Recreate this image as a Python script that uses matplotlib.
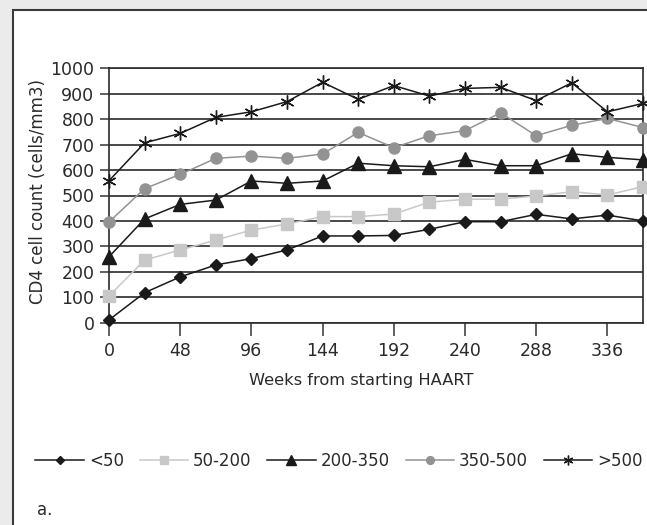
import matplotlib
matplotlib.use("Agg")
from matplotlib import pyplot as plt
from matplotlib.patches import Rectangle
import numpy as np

plt.rcParams['font.family'] = ['DejaVu Sans']

weeks = np.arange(0, 361, 24)
under_50 = [11, 118, 180, 227, 252, 286, 341, 341, 343, 367, 397, 397, 426, 408, 423, 400]
cd4_50_200 = [105, 246, 286, 325, 364, 388, 417, 417, 427, 474, 485, 486, 498, 515, 502, 535]
cd4_200_350 = [259, 408, 465, 482, 557, 548, 557, 627, 617, 613, 642, 617, 617, 664, 650, 640]
cd4_350_500 = [396, 527, 583, 646, 655, 646, 663, 748, 688, 735, 755, 825, 735, 776, 803, 767]
over_500 = [558, 707, 744, 807, 829, 869, 945, 878, 932, 891, 921, 925, 873, 943, 829, 862]
labels = ["<50", "50-200", "200-350", "350-500", ">500"]

W, H = 647, 525
txt = "#2a2a2a"
fig = plt.figure(figsize=(W / 100, H / 100), dpi=100)
fig.patch.set_facecolor("#ebebeb")
# white panel with dark frame
fig.patches.append(Rectangle((13 / W, -0.1), 1.2, (H - 10) / H + 0.1, transform=fig.transFigure,
                             facecolor="white", edgecolor="#3a3a3a", linewidth=1.5, zorder=-5))

ax = fig.add_axes([109 / W, (H - 322.7) / H, (643 - 109) / W, (322.7 - 68.3) / H])
ax.set_zorder(2)
ax.set_facecolor("none")

series = [
    (under_50, "#1a1a1a", "D", 6.5, "#1a1a1a"),
    (cd4_50_200, "#c8c8c8", "s", 9, "#c8c8c8"),
    (cd4_200_350, "#1a1a1a", "^", 9.5, "#1a1a1a"),
    (cd4_350_500, "#939393", "o", 8, "#939393"),
    (over_500, "#1a1a1a", (6, 2, 0), 10, "#1a1a1a"),
]
for (vals, col, mk, ms, mc), lab in zip(series, labels):
    ax.plot(weeks, vals, color=col, lw=1.1, marker=mk, markersize=ms,
            markerfacecolor=mc, markeredgecolor=mc, markeredgewidth=1.0,
            label=lab, clip_on=False, zorder=3)

ax.set_xlim(0, 360)
ax.set_ylim(0, 1000)
ax.set_xticks(np.arange(0, 337, 48))
ax.set_yticks(np.arange(0, 1001, 100))
ax.yaxis.grid(True, color="#2a2a2a", lw=1.2)
ax.set_axisbelow(True)
for s in ax.spines.values():
    s.set_color("#2a2a2a")
    s.set_linewidth(1.2)
ax.tick_params(axis="x", length=9, width=1.2, color="#444444", labelsize=12.5, pad=5,
               labelcolor=txt)
ax.tick_params(axis="y", length=6.5, width=1.2, color="#444444", labelsize=12.5, pad=4,
               labelcolor=txt)
ax.set_xlabel("Weeks from starting HAART", fontsize=11.7, color=txt)
ax.xaxis.set_label_coords((361 - 109) / (643 - 109), -(380 - 322.7) / (322.7 - 68.3))
ax.xaxis.label.set_va("center")
ax.set_ylabel("CD4 cell count (cells/mm3)", fontsize=12, color=txt)
ax.yaxis.set_label_coords(-(109 - 38) / (643 - 109), (322.7 - 192) / (322.7 - 68.3))
ax.yaxis.label.set_va("center")

leg = fig.legend(loc="center", bbox_to_anchor=(339 / W, (H - 461) / H), ncol=5, frameon=False,
                 fontsize=12, handlelength=2.9, columnspacing=0.95, handletextpad=0.3,
                 markerscale=0.7, borderpad=0, borderaxespad=0, labelcolor=txt)
leg.set_zorder(3)
fig.text(37 / W, (H - 510) / H, "a.", fontsize=12, va="center", ha="left", color=txt)

fig.savefig("out.png", dpi=100, facecolor=fig.get_facecolor())
